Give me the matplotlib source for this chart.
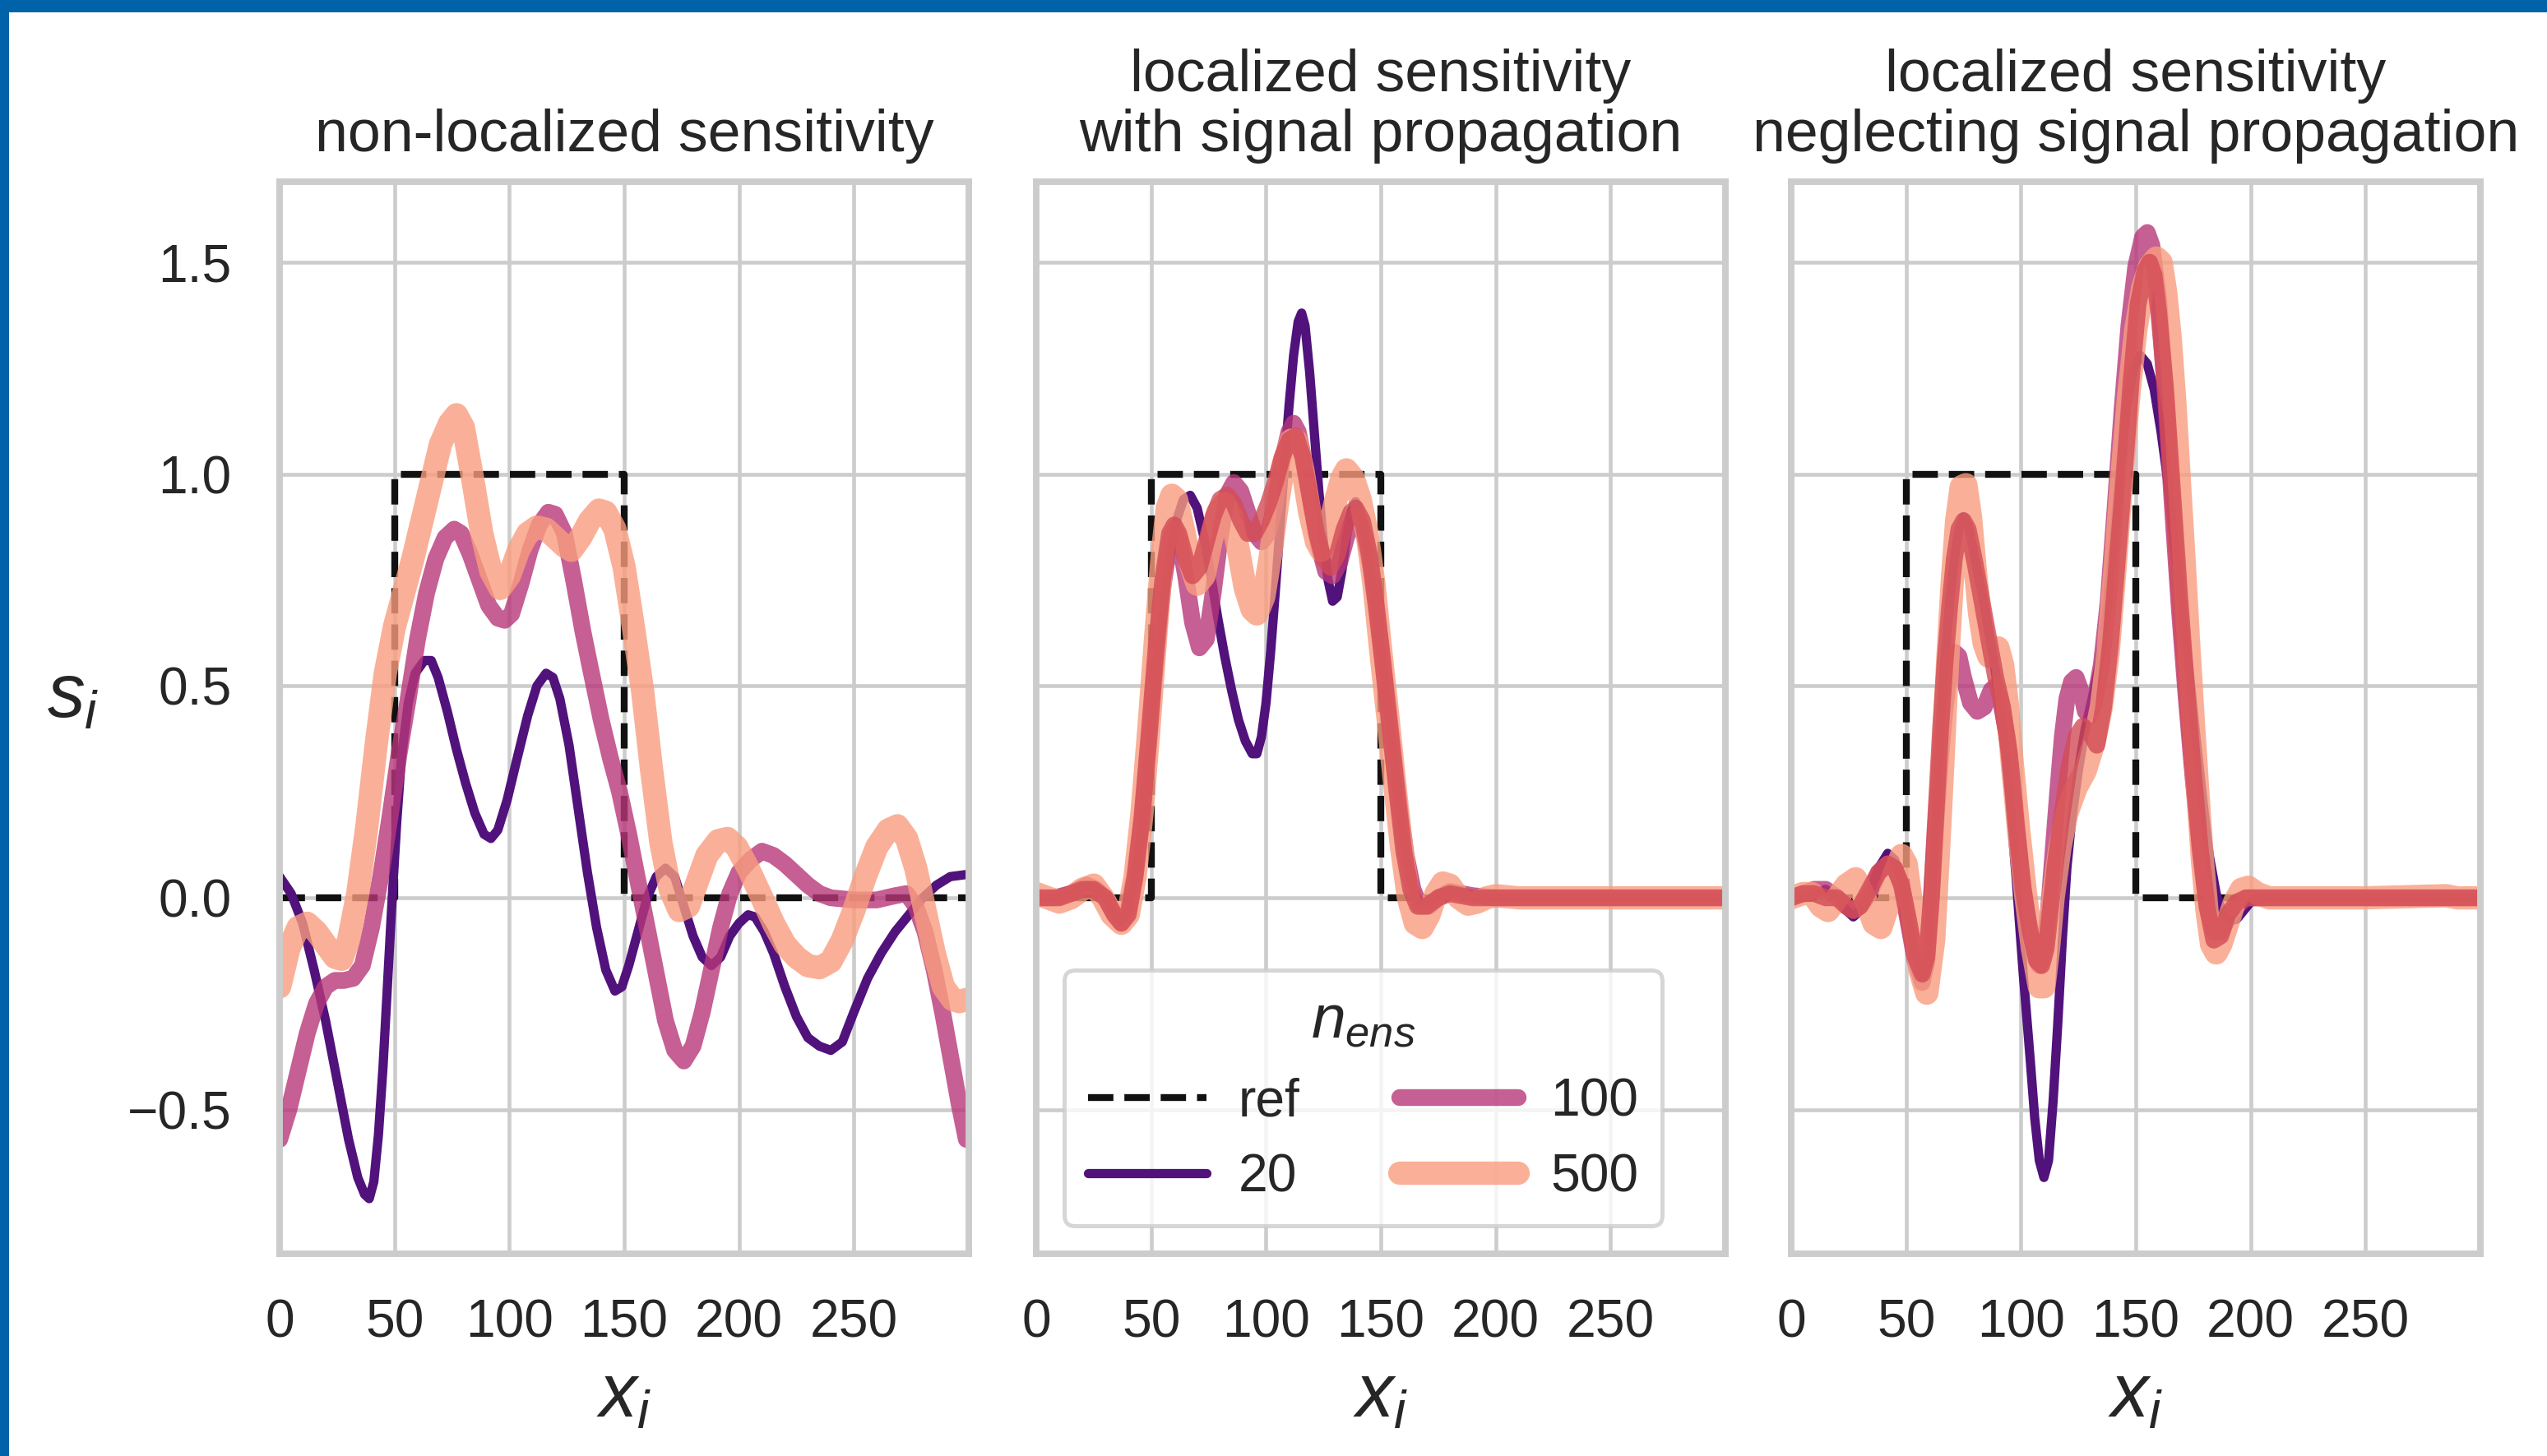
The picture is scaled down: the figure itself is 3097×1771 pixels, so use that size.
import matplotlib
matplotlib.use('Agg')
import matplotlib.pyplot as plt
import matplotlib.patches as mpatches
import seaborn as sns

# reference step
ref_x = [0, 50, 50, 150, 150, 299]
ref_y = [0, 0, 1, 1, 0, 0]

# ---- panel 1: non-localized sensitivity ----
p1_x20 = [0, 5, 10, 15, 20, 25, 30, 34, 37, 39, 41, 43, 45, 47, 49, 51, 53, 56, 59, 63, 66, 69, 73, 77, 81, 85, 89, 92, 95, 99,
          103, 108, 112, 116, 119, 122, 126, 130, 134, 138, 142, 146, 149, 152, 156, 160, 164, 168, 172, 176, 180, 184, 188,
          192, 196, 200, 204, 207, 211, 215, 220, 225, 230, 235, 240, 245, 250, 256, 262, 268, 274, 280, 286, 292, 299]
p1_y20 = [0.05, 0.01, -0.06, -0.17, -0.29, -0.43, -0.57, -0.66, -0.70, -0.71, -0.67, -0.56, -0.40, -0.20, 0.0, 0.18, 0.33,
          0.46, 0.53, 0.56, 0.56, 0.52, 0.44, 0.35, 0.27, 0.20, 0.15, 0.14, 0.16, 0.23, 0.32, 0.43, 0.50, 0.53, 0.52, 0.47,
          0.36, 0.21, 0.06, -0.07, -0.17, -0.22, -0.21, -0.16, -0.08, 0.0, 0.05, 0.07, 0.05, -0.02, -0.09, -0.14, -0.16,
          -0.14, -0.09, -0.06, -0.04, -0.045, -0.08, -0.13, -0.21, -0.28, -0.33, -0.35, -0.36, -0.34, -0.27, -0.19, -0.13,
          -0.08, -0.04, 0.0, 0.03, 0.05, 0.055]
p1_x100 = [0, 4, 8, 12, 16, 20, 24, 28, 32, 36, 40, 44, 48, 52, 56, 60, 64, 68, 72, 76, 79, 83, 87, 91, 95, 98, 101, 105,
           109, 113, 117, 120, 124, 128, 132, 135, 140, 144, 148, 152, 156, 160, 164, 168, 172, 176, 180, 184, 188, 192,
           196, 200, 205, 210, 215, 220, 225, 230, 235, 240, 250, 260, 268, 273, 277, 281, 285, 289, 293, 296, 299]
p1_y100 = [-0.57, -0.50, -0.41, -0.32, -0.25, -0.21, -0.195, -0.195, -0.19, -0.16, -0.07, 0.05, 0.19, 0.34, 0.47, 0.61,
           0.72, 0.80, 0.85, 0.87, 0.86, 0.81, 0.75, 0.69, 0.66, 0.655, 0.67, 0.74, 0.82, 0.88, 0.91, 0.905, 0.86, 0.75,
           0.63, 0.55, 0.42, 0.33, 0.25, 0.15, 0.04, -0.07, -0.18, -0.29, -0.36, -0.385, -0.35, -0.27, -0.17, -0.07, 0.01,
           0.06, 0.09, 0.11, 0.10, 0.08, 0.055, 0.03, 0.01, 0.0, -0.005, -0.005, 0.005, 0.01, -0.02, -0.08, -0.17, -0.28,
           -0.40, -0.49, -0.57]
p1_x500 = [0, 4, 8, 12, 16, 20, 24, 27, 30, 34, 38, 42, 46, 50, 54, 58, 62, 66, 70, 74, 77, 80, 84, 88, 92, 96, 100, 104,
           108, 112, 116, 120, 124, 127, 131, 135, 139, 142, 146, 150, 154, 158, 162, 166, 170, 174, 178, 182, 186, 191,
           195, 199, 204, 210, 215, 220, 225, 230, 235, 240, 245, 250, 255, 260, 265, 269, 273, 277, 281, 285, 289, 293,
           296, 299]
p1_y500 = [-0.21, -0.12, -0.07, -0.06, -0.08, -0.11, -0.14, -0.145, -0.10, 0.01, 0.17, 0.36, 0.53, 0.64, 0.72, 0.80,
           0.89, 0.98, 1.07, 1.12, 1.14, 1.11, 0.99, 0.86, 0.77, 0.73, 0.76, 0.82, 0.86, 0.875, 0.87, 0.85, 0.83, 0.82,
           0.85, 0.89, 0.915, 0.91, 0.87, 0.78, 0.64, 0.49, 0.30, 0.13, 0.02, -0.03, -0.02, 0.04, 0.10, 0.135, 0.14, 0.12,
           0.07, 0.0, -0.06, -0.11, -0.14, -0.16, -0.165, -0.15, -0.10, -0.03, 0.05, 0.12, 0.16, 0.17, 0.14, 0.07, -0.03,
           -0.13, -0.21, -0.24, -0.245, -0.24]

# ---- panel 2: localized, with signal propagation ----
p2_x20 = [0, 8, 15, 22, 26, 30, 34, 37, 40, 43, 46, 49, 52, 55, 58, 61, 64, 67, 70, 73, 76, 79, 82, 85, 88, 91, 94, 96,
          98, 100, 102, 104, 106, 108, 110, 112, 114, 115.5, 117, 119, 121, 123, 125, 127, 129, 131, 133, 135, 137, 139,
          141, 143, 146, 149, 152, 155, 158, 161, 164, 167, 171, 175, 180, 190, 200, 250, 299]
p2_y20 = [0.0, 0.0, 0.01, 0.03, 0.02, 0.0, -0.04, -0.055, -0.03, 0.05, 0.17, 0.34, 0.52, 0.68, 0.80, 0.89, 0.94, 0.95,
          0.92, 0.85, 0.76, 0.66, 0.57, 0.49, 0.42, 0.37, 0.34, 0.34, 0.38, 0.46, 0.58, 0.72, 0.87, 1.02, 1.16, 1.28, 1.36,
          1.38, 1.35, 1.24, 1.10, 0.96, 0.84, 0.75, 0.70, 0.71, 0.77, 0.85, 0.91, 0.935, 0.91, 0.86, 0.75, 0.62, 0.50,
          0.36, 0.22, 0.10, 0.02, -0.015, -0.01, 0.01, 0.015, 0.005, 0.0, 0.0, 0.0]
p2_x100 = [0, 8, 15, 22, 26, 30, 34, 37, 40, 43, 46, 49, 52, 55, 58, 60, 62, 65, 68, 71, 74, 77, 80, 83, 86, 89, 92, 95,
           98, 101, 104, 107, 110, 112, 114, 117, 120, 123, 126, 129, 132, 135, 138, 140, 143, 146, 149, 152, 155, 158,
           161, 164, 167, 171, 175, 180, 190, 200, 250, 299]
p2_y100 = [0.0, 0.0, 0.01, 0.03, 0.02, 0.0, -0.04, -0.06, -0.03, 0.06, 0.19, 0.37, 0.56, 0.73, 0.84, 0.87, 0.85, 0.76,
           0.65, 0.59, 0.61, 0.72, 0.85, 0.95, 0.98, 0.96, 0.91, 0.86, 0.84, 0.86, 0.93, 1.03, 1.10, 1.12, 1.10, 1.02,
           0.92, 0.83, 0.77, 0.76, 0.79, 0.85, 0.90, 0.90, 0.85, 0.77, 0.64, 0.50, 0.36, 0.22, 0.10, 0.02, -0.02, -0.02,
           0.0, 0.015, 0.005, 0.0, 0.0, 0.0]
p2_x500 = [0, 5, 10, 15, 20, 25, 29, 33, 37, 40, 43, 46, 49, 52, 55, 57, 59, 61, 64, 67, 70, 73, 76, 79, 82, 85, 88, 91,
           94, 96, 99, 102, 105, 108, 111, 113, 116, 119, 122, 124, 127, 130, 133, 135, 138, 141, 144, 147, 150, 153, 156,
           159, 162, 165, 168, 171, 174, 177, 180, 184, 188, 192, 196, 200, 210, 250, 280, 299]
p2_y500 = [0.01, 0.0, -0.01, 0.0, 0.02, 0.03, 0.0, -0.04, -0.06, -0.04, 0.05, 0.20, 0.40, 0.62, 0.82, 0.92, 0.95, 0.94,
           0.87, 0.79, 0.74, 0.76, 0.84, 0.91, 0.93, 0.90, 0.82, 0.73, 0.68, 0.67, 0.71, 0.81, 0.93, 1.03, 1.08, 1.08,
           1.01, 0.91, 0.84, 0.82, 0.86, 0.93, 0.99, 1.01, 0.99, 0.94, 0.86, 0.74, 0.58, 0.43, 0.27, 0.12, 0.0, -0.06,
           -0.07, -0.04, 0.01, 0.035, 0.03, 0.0, -0.015, -0.01, 0.0, 0.005, 0.0, 0.0, 0.0, 0.0]
p2_xc = [0, 10, 20, 25, 30, 34, 37, 40, 43, 46, 49, 52, 55, 58, 60, 62, 65, 68, 71, 74, 77, 80, 83, 86, 89, 92, 95, 98,
         101, 104, 107, 110, 113, 116, 119, 122, 125, 128, 131, 134, 137, 139, 142, 145, 148, 151, 154, 157, 160, 163,
         166, 170, 175, 180, 190, 299]
p2_yc = [0.0, 0.0, 0.02, 0.02, 0.0, -0.04, -0.06, -0.04, 0.05, 0.19, 0.38, 0.58, 0.75, 0.86, 0.88, 0.86, 0.80, 0.76,
         0.78, 0.84, 0.90, 0.94, 0.95, 0.93, 0.89, 0.86, 0.86, 0.89, 0.93, 0.98, 1.04, 1.08, 1.09, 1.04, 0.95, 0.86,
         0.80, 0.78, 0.81, 0.87, 0.91, 0.92, 0.89, 0.81, 0.69, 0.55, 0.40, 0.25, 0.11, 0.02, -0.02, -0.02, 0.0, 0.01,
         0.0, 0.0]

# ---- panel 3: localized, neglecting signal propagation ----
p3_x20 = [0, 5, 10, 15, 20, 24, 27, 30, 34, 38, 42, 45, 48, 51, 54, 57, 59, 61, 63, 65, 67, 69, 71, 73, 75, 77, 80, 83,
          86, 89, 92, 95, 98, 101, 104, 106, 108, 110, 112, 114, 116, 118, 120, 122, 125, 128, 131, 134, 137, 140, 143,
          146, 149, 152, 155, 158, 161, 164, 167, 170, 173, 176, 179, 182, 185, 188, 191, 194, 197, 200, 205, 250, 299]
p3_y20 = [0.0, 0.0, 0.01, 0.02, 0.0, -0.03, -0.045, -0.03, 0.01, 0.07, 0.105, 0.09, 0.04, -0.05, -0.14, -0.19, -0.16,
          0.0, 0.20, 0.40, 0.57, 0.70, 0.80, 0.87, 0.90, 0.88, 0.80, 0.72, 0.63, 0.53, 0.40, 0.24, 0.04, -0.18, -0.38,
          -0.52, -0.62, -0.66, -0.62, -0.48, -0.30, -0.10, 0.07, 0.18, 0.30, 0.40, 0.47, 0.55, 0.66, 0.82, 1.00, 1.16,
          1.25, 1.28, 1.26, 1.20, 1.10, 0.98, 0.83, 0.69, 0.55, 0.39, 0.24, 0.10, 0.01, -0.04, -0.055, -0.05, -0.03,
          -0.01, 0.0, 0.0, 0.0]
p3_x100 = [0, 5, 10, 15, 20, 24, 27, 30, 34, 38, 42, 45, 48, 51, 54, 57, 59, 61, 63, 65, 67, 69, 71, 73, 75, 78, 81, 84,
           87, 89, 91, 94, 97, 100, 103, 106, 108, 110, 112, 114, 116, 118, 120, 122, 124, 126, 128, 130, 132, 135, 138,
           141, 144, 147, 150, 153, 155, 157, 160, 163, 166, 169, 172, 175, 178, 181, 184, 187, 190, 194, 198, 250, 299]
p3_y100 = [0.0, 0.01, 0.02, 0.02, 0.0, -0.02, -0.03, -0.02, 0.01, 0.06, 0.08, 0.07, 0.03, -0.06, -0.15, -0.20, -0.15,
           0.0, 0.18, 0.33, 0.45, 0.54, 0.58, 0.57, 0.52, 0.46, 0.44, 0.45, 0.49, 0.50, 0.47, 0.38, 0.24, 0.07, -0.06,
           -0.14, -0.16, -0.13, -0.03, 0.11, 0.25, 0.38, 0.47, 0.51, 0.52, 0.49, 0.44, 0.43, 0.46, 0.55, 0.70, 0.92, 1.15,
           1.35, 1.49, 1.56, 1.57, 1.54, 1.41, 1.18, 0.92, 0.68, 0.47, 0.28, 0.11, -0.02, -0.08, -0.08, -0.05, -0.02, 0.0,
           0.0, 0.0]
p3_x500 = [0, 5, 9, 13, 16, 20, 24, 28, 32, 36, 39, 42, 45, 48, 50, 53, 56, 59, 62, 64, 66, 68, 70, 72, 74, 76, 78, 80,
           82, 84, 86, 88, 90, 92, 94, 96, 99, 102, 105, 108, 110, 112, 114, 117, 120, 124, 128, 132, 135, 138, 141, 144,
           147, 150, 153, 156, 159, 161, 163, 165, 167, 169, 171, 173, 175, 177, 179, 181, 183, 185, 187, 190, 193, 196,
           199, 203, 208, 250, 285, 290, 299]
p3_y500 = [0.0, 0.01, 0.01, -0.02, -0.03, 0.0, 0.03, 0.045, 0.0, -0.06, -0.07, -0.02, 0.06, 0.10, 0.08, -0.04, -0.17,
           -0.225, -0.10, 0.10, 0.32, 0.55, 0.74, 0.89, 0.97, 0.975, 0.90, 0.78, 0.67, 0.60, 0.57, 0.58, 0.59, 0.55, 0.46,
           0.33, 0.16, 0.01, -0.12, -0.21, -0.21, -0.12, 0.0, 0.12, 0.20, 0.26, 0.30, 0.37, 0.45, 0.58, 0.78, 1.00, 1.19,
           1.34, 1.44, 1.49, 1.51, 1.50, 1.43, 1.32, 1.17, 0.98, 0.80, 0.60, 0.42, 0.25, 0.09, -0.03, -0.11, -0.13, -0.11,
           -0.06, -0.01, 0.02, 0.025, 0.01, 0.0, 0.0, 0.005, 0.0, 0.0]
p3_xc = [0, 5, 10, 15, 20, 24, 27, 30, 34, 38, 42, 45, 48, 51, 54, 57, 59, 61, 63, 65, 67, 69, 71, 73, 75, 77, 80, 83, 86,
         89, 92, 95, 98, 101, 104, 107, 109, 111, 113, 115, 118, 121, 124, 127, 130, 133, 136, 139, 142, 145, 148, 151,
         154, 156, 158, 160, 163, 166, 169, 172, 175, 178, 181, 184, 187, 190, 194, 198, 250, 299]
p3_yc = [0.0, 0.01, 0.01, 0.0, 0.0, -0.02, -0.03, -0.02, 0.02, 0.06, 0.08, 0.07, 0.03, -0.05, -0.14, -0.18, -0.14, 0.0,
         0.20, 0.40, 0.56, 0.69, 0.80, 0.87, 0.89, 0.87, 0.79, 0.70, 0.61, 0.52, 0.45, 0.34, 0.17, 0.02, -0.08, -0.15,
         -0.16, -0.12, -0.02, 0.08, 0.20, 0.31, 0.38, 0.405, 0.39, 0.36, 0.45, 0.60, 0.80, 1.00, 1.22, 1.40, 1.48, 1.50,
         1.47, 1.38, 1.20, 0.96, 0.72, 0.50, 0.30, 0.12, -0.02, -0.10, -0.09, -0.04, -0.01, 0.0, 0.0, 0.0]

titles = ['non-localized sensitivity',
          'localized sensitivity\nwith signal propagation',
          'localized sensitivity\nneglecting signal propagation']
ens_labels = ['20', '100', '500']
xticks = [0, 50, 100, 150, 200, 250]
yticks = [-0.5, 0.0, 0.5, 1.0, 1.5]

panels = [
    [(p1_x20, p1_y20), (p1_x100, p1_y100), (p1_x500, p1_y500), None],
    [(p2_x20, p2_y20), (p2_x100, p2_y100), (p2_x500, p2_y500), (p2_xc, p2_yc)],
    [(p3_x20, p3_y20), (p3_x100, p3_y100), (p3_x500, p3_y500), (p3_xc, p3_yc)],
]

sns.set_theme(style='whitegrid')
plt.rcParams['font.family'] = ['Liberation Sans', 'DejaVu Sans']
plt.rcParams['mathtext.fontset'] = 'custom'
plt.rcParams['mathtext.rm'] = 'Liberation Sans'
plt.rcParams['mathtext.it'] = 'Liberation Sans:italic'

colors = ['#51127c', '#b73779', '#f99d7e']
alphas = [1.0, 0.8, 0.8]
widths = [2.7, 4.9, 6.8]
coral = '#d34b55'

fig = plt.figure(figsize=(3097 / 300, 1771 / 300), dpi=300)
lefts = [0.1098, 0.4069, 0.7033]
axes = []
for i in range(3):
    ax = fig.add_axes([lefts[i], 0.1389, 0.2705, 0.7363])
    axes.append(ax)
    ax.plot(ref_x, ref_y, ls='--', color='#111111', lw=2.0, label='ref')
    for k in range(3):
        xs, ys = panels[i][k]
        ax.plot(xs, ys, color=colors[k], alpha=alphas[k], lw=widths[k],
                solid_capstyle='round', solid_joinstyle='round', label=ens_labels[k])
    if panels[i][3] is not None:
        xs, ys = panels[i][3]
        ax.plot(xs, ys, color=coral, alpha=0.8, lw=4.9, solid_capstyle='round', solid_joinstyle='round')
    ax.set_xlim(0, 300)
    ax.set_ylim(-0.84, 1.69)
    ax.set_xticks(xticks)
    ax.set_yticks(yticks)
    ax.grid(True, color='#cccccc', lw=1.1)
    for s in ax.spines.values():
        s.set_color('#cccccc')
        s.set_linewidth(1.9)
    ax.tick_params(axis='x', labelsize=15.4, pad=13, length=0, colors='#262626')
    ax.tick_params(axis='y', labelsize=15.4, pad=14, length=0, colors='#262626')
    ax.set_title(titles[i], fontsize=17.2, pad=9, color='#262626', linespacing=1.1)
    ax.set_xlabel('$x_i$', fontsize=22, color='#262626')
    ax.xaxis.set_label_coords(0.5, -0.133)
    ax.xaxis.label.set_va('center')
    if i > 0:
        ax.set_yticklabels([])

axes[0].set_ylabel('$s_i$', fontsize=22, rotation=0, color='#262626')
axes[0].yaxis.set_label_coords(-0.30, 0.52)
axes[0].yaxis.label.set_va('center')
axes[0].yaxis.label.set_ha('center')

handles, labels = axes[1].get_legend_handles_labels()
leg = axes[1].legend(handles, labels, title='$n_{ens}$', ncol=2, loc='lower left',
                     bbox_to_anchor=(0.04, 0.026), borderaxespad=0, fontsize=15.4,
                     title_fontsize=18, handlelength=2.25, handletextpad=0.6,
                     columnspacing=1.9, labelspacing=0.5, borderpad=0.45,
                     frameon=True, facecolor='white', edgecolor='#cccccc', framealpha=0.8)
leg.get_frame().set_linewidth(1.2)
for t in leg.get_texts():
    t.set_color('#262626')

# blue border at top and left
fig.add_artist(mpatches.Rectangle((0, 1 - 15 / 1771), 1, 15 / 1771, transform=fig.transFigure,
                                  color='#0062a8', lw=0, zorder=10))
fig.add_artist(mpatches.Rectangle((0, 0), 11 / 3097, 1, transform=fig.transFigure,
                                  color='#0062a8', lw=0, zorder=10))

fig.savefig('out.png', dpi=300)
